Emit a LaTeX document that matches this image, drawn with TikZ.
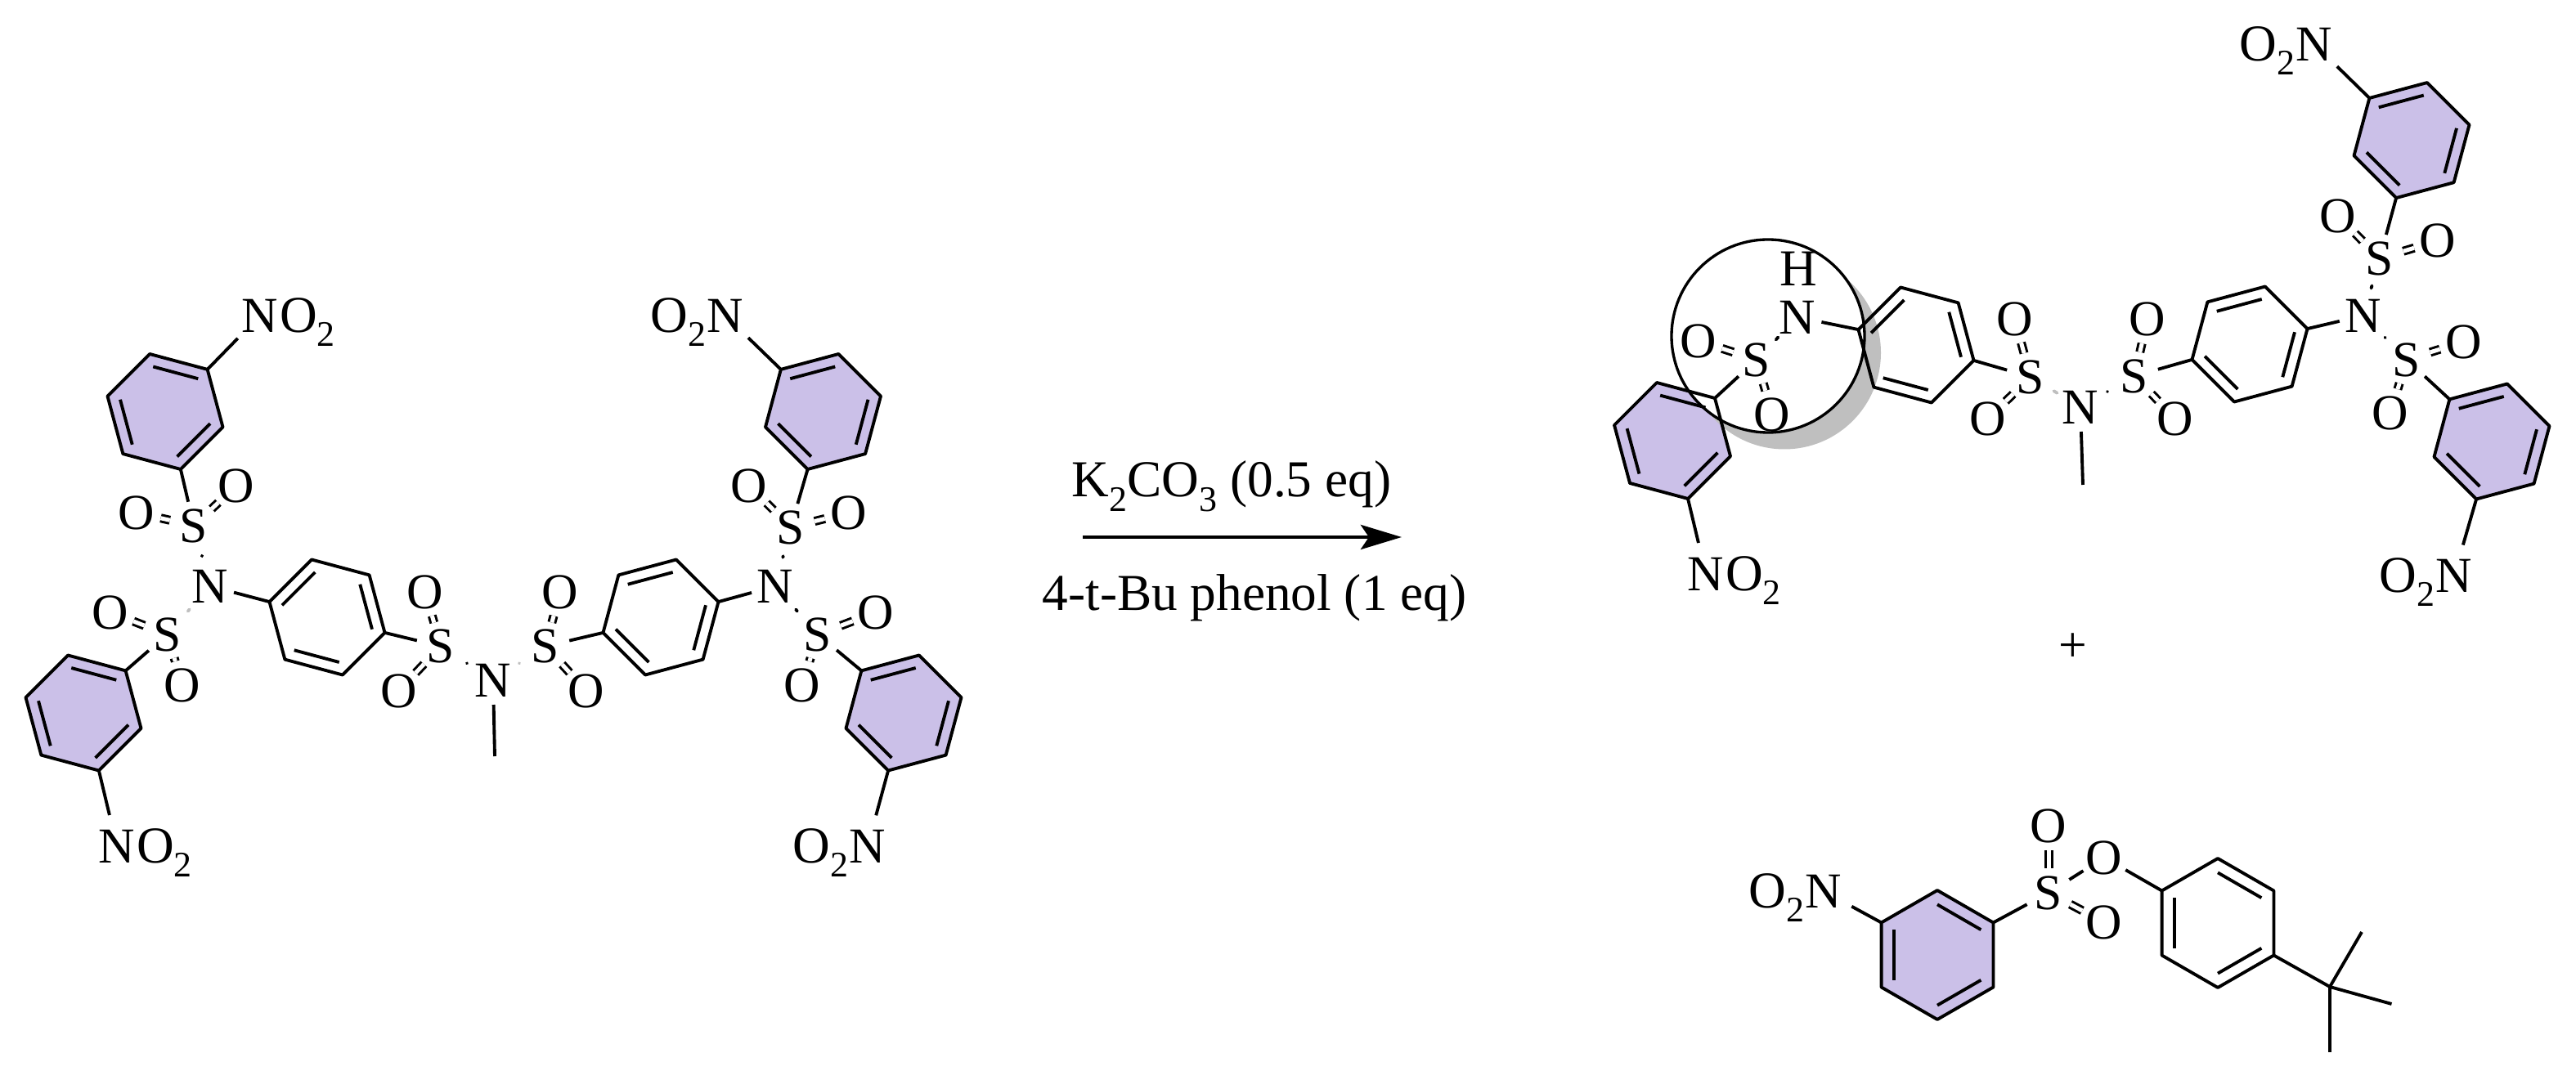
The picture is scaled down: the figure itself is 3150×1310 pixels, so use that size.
\documentclass[tikz,border=0pt]{standalone}
\usepackage{fontspec}
\setmainfont{Liberation Serif}
\usetikzlibrary{calc}
\usetikzlibrary{arrows.meta}
\definecolor{ringColor}{HTML}{CBC0E8}
\definecolor{shadowColor}{HTML}{BFBFBF}
\newcommand{\bondWidth}{1.1pt}
\newcommand{\dn}[1]{\raisebox{-5pt}{\fontsize{12.5}{13}\selectfont #1}}
\newcommand{\placeRing}[5]{
	\coordinate (ring#1) at (#2,#3);
	\foreach \i in {1,...,6}
	{
		\coordinate (ring#1-\i) at ($(ring#1)+({#4+60*(\i-1)}:#5)$);
	}
}
\newcommand{\drawRing}[1]{
	\draw[bond] (ring#1-1) -- (ring#1-2) -- (ring#1-3) -- (ring#1-4) -- (ring#1-5) -- (ring#1-6) -- cycle;
	\foreach \p/\q in {1/2, 3/4, 5/6}
	{
		\draw[bond] ($(ring#1)!0.78!(ring#1-\p)$) -- ($(ring#1)!0.78!(ring#1-\q)$);
	}
}
\tikzset{bond/.style = {black, line width=\bondWidth, line join=round}}
\tikzset{sulfonyl/.style = {bond, double, double distance=0.05cm, line width=0.85pt}}
\tikzset{stub/.style = {black, line width=1.1pt, line cap=round, shorten <=0.08cm, shorten >=0.08cm}}
\tikzset{faintstub/.style = {stub, black!25}}
\tikzset{atom/.style = {circle, inner sep=0pt, outer sep=0pt, minimum size=0.6cm, font=\fontsize{17.5}{20}\selectfont}}
\tikzset{nitro/.style = {atom, minimum size=0.78cm}}
\tikzset{oxide/.style = {inner sep=0pt, outer sep=0pt, font=\fontsize{18}{20}\selectfont}}
\tikzset{reagent/.style = {inner sep=0pt, anchor=base, font=\fontsize{18}{21}\selectfont}}
\tikzset{reaction/.style = {black, line width=1.35pt, -{Stealth[length=0.5cm, width=0.3cm, inset=0.1cm]}}}

\begin{document}
\begin{tikzpicture}[x=0.01cm, y=-0.01cm]
	\useasboundingbox (0,0) rectangle (3150,1310);

	\foreach \name/\cx/\cy/\ang/\rad in {A/202/503.5/-105/73, B/102/872/-105/73,
			D/1006.5/503.5/-135/73, E/1105/872/-135/73, G/2045/539/-105/73.5,
			K/2949/171.6/-135/73, L/3047/540/-135/73, M/2369/1168/-90/79}
	{
		\placeRing{\name}{\cx}{\cy}{\ang}{\rad}
		\fill[ringColor] (ring\name-1) -- (ring\name-2) -- (ring\name-3) -- (ring\name-4) -- (ring\name-5) -- (ring\name-6) -- cycle;
	}
	\foreach \name/\cx/\cy/\ang/\rad in {C/400/755/-165/73, F/808/755/-135/73,
			H/2343/422/-165/73, J/2751/421/-135/73, N/2712/1129/-90/79}
	{
		\placeRing{\name}{\cx}{\cy}{\ang}{\rad}
	}

	\fill[shadowColor] (2182,431.5) circle (118);
	\filldraw[fill=white, draw=black, line width=0.95pt] (2162,411) circle (118);

	\foreach \name in {A,B,C,D,E,F,G,H,J,K,L,M,N}
	{
		\drawRing{\name}
	}

	\foreach \n/\x/\y/\t in {S1/237/643/S, O1a/167/627/O, O1b/289/594/O, N1/257/717/N,
			S2/204.5/776/S, O2a/135/749/O, O2b/223/838/O,
			S3/539/790.5/S, O3a/520/724/O, O3b/487.5/845/O, N2/603/832/N,
			S4/667/790.5/S, O4a/685/724/O, O4b/717/845/O,
			N3/948/717/N, S5/967/645/S, O5a/916/594/O, O5b/1038/627/O,
			S6/1000/776/S, O6a/1071/749/O, O6b/981/838/O,
			S7/2148/440/S, O7a/2077/417/O, O7b/2167/507/O, N4/2198/388/N,
			S8/2483/461/S, O8a/2463.5/390/O, O8b/2431/512/O, N5/2544/498/N,
			S9/2610/460/S, O9a/2626/390.5/O, O9b/2660/512/O,
			N6/2890/386/N, S10/2910/316/S, O10a/2858.5/264/O, O10b/2981/294.5/O,
			S11/2943/440/S, O11a/3012.5/418/O, O11b/2923/505/O,
			S12/2505/1092/S, O12a/2505/1010/O, O12b/2573/1128/O, O12c/2573/1049/O}
	{
		\node[atom] (\n) at (\x,\y) {\t};
	}
	\node[oxide] (H4) at (2199,329) {H};

	\foreach \n/\x/\y in {NtA/318/386, NtB/143/1035, NtG/2086/702}
	{
		\node[nitro] (\n) at (\x,\y) {N};
		\node[oxide, anchor=base west] (\n-O) at ($(\n.base)+(24,0)$) {O\dn{2}};
	}
	\foreach \n/\x/\y in {NtD/887/386, NtE/1061/1035, NtK/2830/54, NtL/3001/704, NtM/2230/1090}
	{
		\node[nitro] (\n) at (\x,\y) {N};
		\node[oxide, anchor=base east] (\n-O) at ($(\n.base)+(-24,0)$) {O\dn{2}};
	}

	\coordinate (Me1) at (605,925);
	\coordinate (Me2) at (2547,593);
	\coordinate (tBu) at (2849,1207);
	\coordinate (tBuA) at (2888,1140);
	\coordinate (tBuB) at (2924.5,1228);
	\coordinate (tBuC) at (2849,1287);

	\foreach \p/\q in {S1/ringA-4, S2/ringB-2, N1/ringC-1, S3/ringC-4, S4/ringF-6, N3/ringF-3,
			S5/ringD-5, S6/ringE-1, N2/Me1, S7/ringG-2, N4/ringH-1, S8/ringH-4,
			S9/ringJ-6, N6/ringJ-3, S10/ringK-5, S11/ringL-1, N5/Me2, S12/ringM-2,
			S12/O12c, O12c/ringN-6, NtA/ringA-2, NtB/ringB-4, NtD/ringD-1, NtE/ringE-5,
			NtG/ringG-4, NtK/ringK-1, NtL/ringL-5, NtM/ringM-6,
			ringN-3/tBu, tBu/tBuA, tBu/tBuB, tBu/tBuC}
	{
		\draw[bond] (\p) -- (\q);
	}

	\foreach \p/\q in {S1/O1a, S1/O1b, S2/O2a, S2/O2b, S3/O3a, S3/O3b, S4/O4a, S4/O4b,
			S5/O5a, S5/O5b, S6/O6a, S6/O6b, S7/O7a, S7/O7b, S8/O8a, S8/O8b,
			S9/O9a, S9/O9b, S10/O10a, S10/O10b, S11/O11a, S11/O11b, S12/O12a, S12/O12b}
	{
		\draw[sulfonyl] (\p) -- (\q);
	}

	\foreach \p/\q in {N1/S1, N3/S5, N3/S6, N6/S10, N6/S11, N4/S7, N2/S3, N5/S9}
	{
		\draw[stub] (\p) -- (\q);
	}
	\foreach \p/\q in {N1/S2, N2/S4, N5/S8}
	{
		\draw[faintstub] (\p) -- (\q);
	}

	\coordinate (arrowStart) at (1324,657);
	\coordinate (arrowEnd) at (1714,657);
	\draw[reaction] (arrowStart) -- (arrowEnd);
	\node[reagent] (base) at (1506,608) {K\dn{2}CO\dn{3} (0.5 eq)};
	\node[reagent] (phenol) at (1534,747) {4-t-Bu phenol (1 eq)};
	\node[atom] (plus) at (2535,792) {+};
\end{tikzpicture}
\end{document}
